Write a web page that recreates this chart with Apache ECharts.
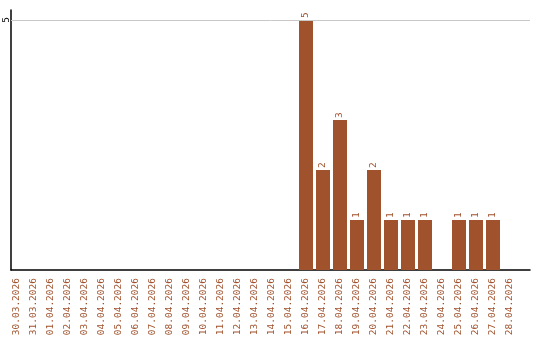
<!DOCTYPE html>
<html><head><meta charset="utf-8">
<script src="https://cdn.jsdelivr.net/npm/echarts@6/dist/echarts.min.js"></script>
<style>html,body{margin:0;padding:0;background:#fff}#c{width:540px;height:340px}</style>
</head><body><div id="c"></div>
<script>
const categories = ['30.03.2026','31.03.2026','01.04.2026','02.04.2026','03.04.2026','04.04.2026','05.04.2026','06.04.2026','07.04.2026','08.04.2026','09.04.2026','10.04.2026','11.04.2026','12.04.2026','13.04.2026','14.04.2026','15.04.2026','16.04.2026','17.04.2026','18.04.2026','19.04.2026','20.04.2026','21.04.2026','22.04.2026','23.04.2026','24.04.2026','25.04.2026','26.04.2026','27.04.2026','28.04.2026'];
const counts = [0,0,0,0,0,0,0,0,0,0,0,0,0,0,0,0,0,5,2,3,1,2,1,1,1,0,1,1,1,0];
const yTicks = [5];

const brown = '#a0522d';
const font = 'DejaVu Sans Mono';
const chart = echarts.init(document.getElementById('c'));
chart.setOption({
  animation: false,
  grid: [
    {left: 8.5, right: 21.5, top: 10, bottom: 70, containLabel: false, outerBoundsMode: 'none'},
    {left: 11, right: 10, top: 10, bottom: 70, containLabel: false, outerBoundsMode: 'none'}
  ],
  xAxis: [
    {type: 'category', gridIndex: 0, data: categories, boundaryGap: true,
     axisLine: {show: false}, axisTick: {show: false}, splitLine: {show: false},
     axisLabel: {interval: 0, rotate: 90, color: brown, fontFamily: font, fontSize: 9.5, margin: 8}},
    {type: 'value', gridIndex: 1, min: 0, max: 1, axisLine: {show: true, lineStyle: {color: '#000', width: 1.5}},
     axisTick: {show: false}, axisLabel: {show: false}, splitLine: {show: false}}
  ],
  yAxis: [
    {type: 'value', gridIndex: 0, min: 0, max: 5.2, show: false},
    {type: 'value', gridIndex: 1, min: 0, max: 5.2, interval: 5,
     axisLine: {show: true, lineStyle: {color: '#000', width: 1.5}}, axisTick: {show: false},
     splitLine: {show: false},
     axisLabel: {rotate: 90, margin: 4, color: '#000', fontFamily: font, fontSize: 9.5,
       align: 'center', verticalAlign: 'middle', padding: [0, 0, 0, 0],
       formatter: v => yTicks.includes(v) ? String(v) : ''}}
  ],
  series: [
    {type: 'bar', xAxisIndex: 0, yAxisIndex: 0, data: counts, barWidth: 14,
     itemStyle: {color: brown},
     label: {show: true, position: 'top', rotate: 90, align: 'left', verticalAlign: 'middle', distance: 2,
       color: brown, fontFamily: font, fontSize: 9.5, formatter: p => p.value ? String(p.value) : ''}},
    {type: 'line', xAxisIndex: 1, yAxisIndex: 1, data: [], silent: true,
     markLine: {silent: true, symbol: ['none','none'], label: {show: false},
       lineStyle: {color: '#c8c8c8', type: 'solid', width: 1},
       data: yTicks.map(t => ({yAxis: t}))}}
  ]
});
</script></body></html>
